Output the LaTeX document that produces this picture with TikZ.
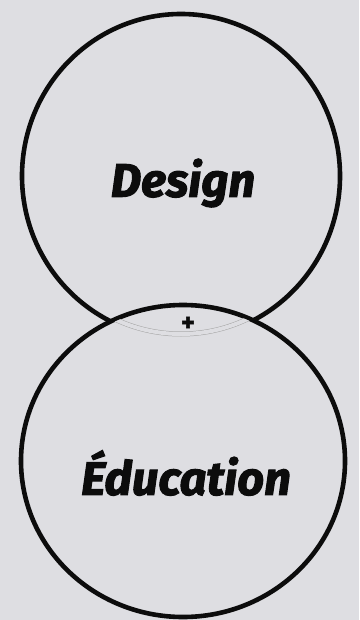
\documentclass[tikz,border=0pt]{standalone}
\usepackage{fontspec}
\setmainfont{Fira Sans}
\newfontfamily\heavyfont[FakeBold=2.2]{Fira Sans}
\usetikzlibrary{shapes.geometric}
\definecolor{bg}{RGB}{222,222,226}
\definecolor{ink}{RGB}{12,12,12}
\tikzset{
  ring/.style={ellipse, draw=ink, line width=4.6pt, inner sep=0pt},
  label/.style={font=\heavyfont\fontsize{47}{50}\selectfont\bfseries\itshape, text=ink},
  seam/.style={draw=gray!70, line width=0.5pt, double=bg, double distance=4pt}
}
\begin{document}
\begin{tikzpicture}[x=1pt,y=-1pt]
\fill[bg] (0,0) rectangle (359,620);
\useasboundingbox (0,0) rectangle (359,620);
% bottom circle
\node[ring, minimum width=324pt, minimum height=312pt] (edu) at (183,461) {};
% top circle drawn outside the bottom circle only
\begin{scope}[even odd rule]
  \clip (-10,-10) rectangle (370,630) (183,461) ellipse [x radius=162, y radius=156];
  \node[ring, minimum width=318pt, minimum height=324pt] (des) at (181,176) {};
\end{scope}
% faint seam where the top circle passes inside the bottom one
\begin{scope}
  \clip (183,461) ellipse [x radius=160, y radius=154];
  \draw[seam] (181,174) ellipse [x radius=157, y radius=160];
\end{scope}
\node[label] (design) at (183,183) {Design};
\node[label] (education) at (186,473) {Éducation};
\node[font=\heavyfont\fontsize{26}{28}\selectfont\bfseries, text=ink] (plus) at (188,324) {+};
\end{tikzpicture}
\end{document}
